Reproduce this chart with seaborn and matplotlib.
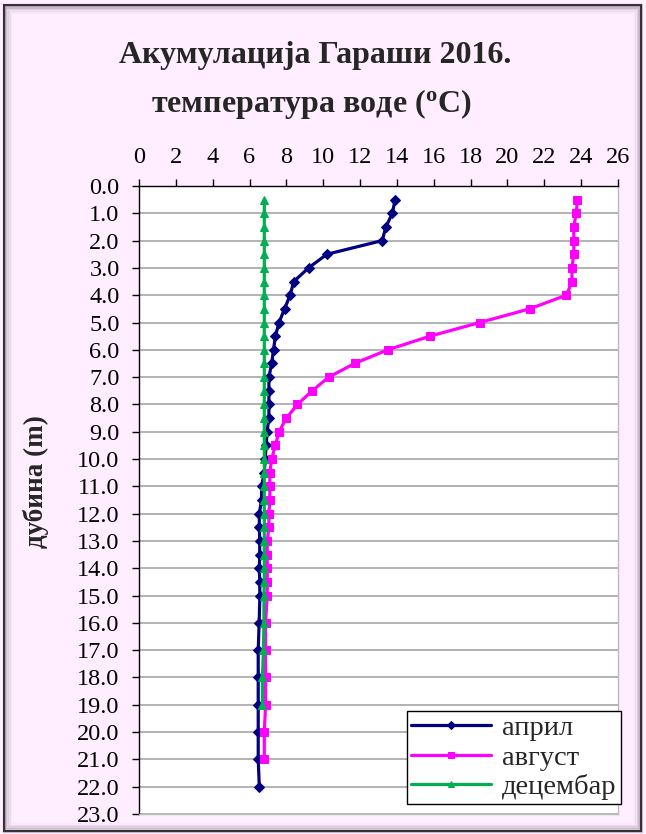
import numpy as np
import pandas as pd
import matplotlib
matplotlib.use("Agg")
import matplotlib.pyplot as plt
import seaborn as sns
from matplotlib.patches import Rectangle

# дубина (m) и температура (°C) по месецима
depth_apr = [0.5, 1.0, 1.5, 2.0, 2.5, 3.0, 3.5, 4.0, 4.5, 5.0, 5.5, 6.0, 6.5, 7.0, 7.5,
             8.0, 8.5, 9.0, 9.5, 10.0, 10.5, 11.0, 11.5, 12.0, 12.5, 13.0, 13.5, 14.0,
             14.5, 15.0, 16.0, 17.0, 18.0, 19.0, 20.0, 21.0, 22.0]
temp_apr = [13.9, 13.75, 13.4, 13.2, 10.2, 9.2, 8.4, 8.2, 7.9, 7.6, 7.4, 7.3, 7.2, 7.05,
            7.05, 7.05, 7.05, 6.95, 6.9, 6.85, 6.8, 6.65, 6.65, 6.53, 6.53, 6.55, 6.55,
            6.53, 6.55, 6.56, 6.52, 6.47, 6.47, 6.47, 6.47, 6.47, 6.53]

depth_aug = [0.5, 1.0, 1.5, 2.0, 2.5, 3.0, 3.5, 4.0, 4.5, 5.0, 5.5, 6.0, 6.5, 7.0, 7.5,
             8.0, 8.5, 9.0, 9.5, 10.0, 10.5, 11.0, 11.5, 12.0, 12.5, 13.0, 13.5, 14.0,
             14.5, 15.0, 16.0, 17.0, 18.0, 19.0, 20.0, 21.0]
temp_aug = [23.8, 23.73, 23.6, 23.6, 23.6, 23.5, 23.5, 23.2, 21.2, 18.5, 15.8, 13.5, 11.7,
            10.3, 9.4, 8.6, 8.0, 7.6, 7.4, 7.2, 7.1, 7.1, 7.1, 7.05, 7.05, 6.96, 6.96,
            6.96, 6.96, 6.96, 6.87, 6.87, 6.87, 6.87, 6.8, 6.8]

depth_dec = [0.5, 1.0, 1.5, 2.0, 2.5, 3.0, 3.5, 4.0, 4.5, 5.0, 5.5, 6.0, 6.5, 7.0, 7.5,
             8.0, 8.5, 9.0, 9.5, 10.0, 10.5, 11.0, 11.5, 12.0, 12.5, 13.0, 13.5, 14.0,
             14.5, 15.0, 16.0, 17.0, 18.0, 19.0]
temp_dec = [6.8, 6.8, 6.8, 6.8, 6.8, 6.8, 6.8, 6.8, 6.8, 6.8, 6.8, 6.8, 6.8, 6.8, 6.8,
            6.8, 6.8, 6.8, 6.8, 6.8, 6.8, 6.8, 6.8, 6.8, 6.8, 6.8, 6.8, 6.8, 6.8, 6.78,
            6.78, 6.75, 6.7, 6.7]

x_ticks = list(range(0, 27, 2))
y_ticks = list(range(0, 24))

SERIES = [
    ("април",    depth_apr, temp_apr, "#000080", "D", 5.0),
    ("август",   depth_aug, temp_aug, "#FF00FF", "s", 6.0),
    ("децембар", depth_dec, temp_dec, "#00B050", "^", 6.0),
]

sns.set_style("white")
plt.rcParams["font.family"] = ["Liberation Serif", "DejaVu Serif"]
plt.rcParams["mathtext.fontset"] = "custom"
plt.rcParams["mathtext.rm"] = "Liberation Serif:bold"
plt.rcParams["mathtext.it"] = "Liberation Serif:bold"

BG = "#FFEEFF"
fig = plt.figure(figsize=(6.46, 8.34), dpi=100, facecolor=BG)

# рам са сенком
for i, a in enumerate([0.35, 0.22, 0.14, 0.08, 0.04]):
    fig.patches.append(Rectangle((0.006 + i * 0.0025, 0.004 + i * 0.002),
                                 0.986 - i * 0.005, 0.99 - i * 0.004,
                                 transform=fig.transFigure, fill=False,
                                 edgecolor="#5a4a5a", alpha=a, lw=2.0))
fig.patches.append(Rectangle((0.006, 0.004), 0.986, 0.99, transform=fig.transFigure,
                             fill=False, edgecolor="#333333", lw=1.5))

ax = fig.add_axes([0.2152, 0.024, 0.7415, 0.753])
ax.set_facecolor("white")

for name, d, t, col, mk, ms in SERIES:
    df = pd.DataFrame({"temp": t, "depth": d})
    sns.lineplot(data=df, x="temp", y="depth", sort=False, estimator=None, ax=ax,
                 color=col, lw=2.3, marker=mk, markersize=ms, markeredgecolor=col,
                 label=name)

ax.set_xlim(0, 26)
ax.set_ylim(23, 0)
ax.set_xticks(x_ticks)
ax.set_yticks(y_ticks)
ax.set_yticklabels([f"{v:.1f}" for v in y_ticks])
ax.xaxis.tick_top()
ax.tick_params(axis="x", top=True, bottom=False, direction="out", length=5, width=1,
               pad=8, labelsize=17.5, colors="black")
ax.tick_params(axis="y", left=True, direction="out", length=5, width=1, pad=9,
               labelsize=17.5, colors="black")
ax.grid(axis="y", color="#a6a6a6", lw=1.2)
ax.grid(axis="x", visible=False)
ax.set_xlabel("")
ax.set_ylabel("")
for side in ["left", "top"]:
    ax.spines[side].set_color("black")
    ax.spines[side].set_linewidth(1.0)
for side in ["right", "bottom"]:
    ax.spines[side].set_color("#bbbbbb")
    ax.spines[side].set_linewidth(1.0)

fig.text(0.4885, 0.924, "Акумулација Гараши 2016.", ha="center", va="baseline",
         fontsize=23, fontweight="bold")
fig.text(0.482, 0.866, "температура воде ($^{o}$C)", ha="center", va="baseline",
         fontsize=23, fontweight="bold")
fig.text(0.055, 0.423, "дубина (m)", ha="center", va="center", rotation=90,
         fontsize=19.5, fontweight="bold")

leg = ax.legend(loc="upper right", bbox_to_anchor=(0.9613, 0.1475),
                bbox_transform=fig.transFigure, borderaxespad=0, fancybox=False,
                framealpha=1, edgecolor="black", fontsize=20.5, handlelength=2.8,
                labelspacing=0.12, borderpad=0.15, handletextpad=0.4, shadow=False)
leg.get_frame().set_linewidth(1.0)
for line in leg.get_lines():
    line.set_markersize(4)

fig.savefig("out.png", dpi=100, facecolor=BG)
